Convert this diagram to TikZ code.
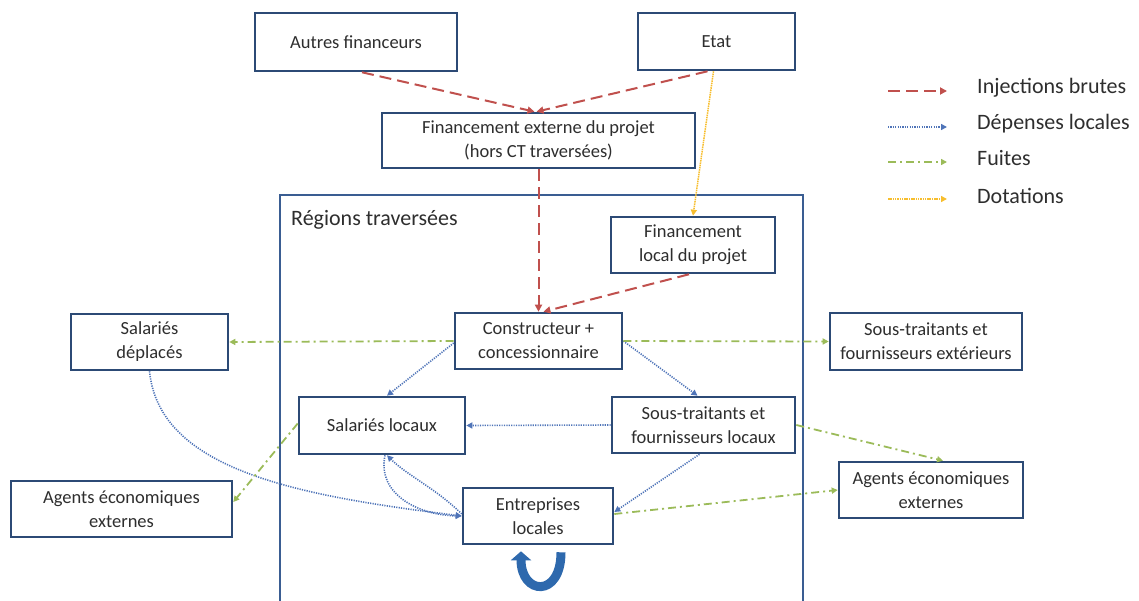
\documentclass[tikz,border=0pt]{standalone}
\usepackage{fontspec}
\setmainfont{Carlito}
\usetikzlibrary{arrows.meta}
\definecolor{boxc}{HTML}{2C4A75}
\definecolor{regc}{HTML}{3A5D92}
\definecolor{txtc}{HTML}{2E2E2E}
\definecolor{injc}{HTML}{C0504D}
\definecolor{depc}{HTML}{4F74B8}
\definecolor{fuic}{HTML}{9BBB59}
\definecolor{dotc}{HTML}{F7BE2E}
\definecolor{uarc}{HTML}{2E69AD}
\begin{document}
\begin{tikzpicture}[x=1pt,y=-1pt,
  box/.style={draw=boxc, line width=2.6pt, fill=white, text=txtc, align=center,
    font=\fontsize{18.5}{24}\selectfont, inner sep=0pt},
  inj/.style={draw=injc, line width=2pt, dash pattern=on 12pt off 6pt,
    -{Triangle[length=7pt,width=7pt]}},
  dep/.style={draw=depc, line width=1.6pt, dash pattern=on 1.2pt off 1.2pt,
    -{Triangle[length=6pt,width=6pt]}},
  fui/.style={draw=fuic, line width=1.8pt, dash pattern=on 8pt off 4pt on 2pt off 4pt,
    -{Triangle[length=6pt,width=6pt]}},
  dota/.style={draw=dotc, line width=1.5pt, dash pattern=on 1.5pt off 0.8pt,
    -{Triangle[length=6pt,width=6pt]}},
  legtext/.style={anchor=west, text=txtc, font=\fontsize{22}{26}\selectfont, inner sep=0pt}
]
\useasboundingbox (0,0) rectangle (1139,601);

% region frame (open at the bottom)
\draw[regc, line width=2.4pt] (280,605) -- (280,195) -- (803,195) -- (803,605);
\node[anchor=west, text=txtc, font=\fontsize{22}{26}\selectfont, inner sep=0pt] (reglab) at (291,220) {Régions traversées};

% boxes
\node[box, minimum width=202pt, minimum height=58pt] (af) at (356,42) {Autres financeurs};
\node[box, minimum width=157pt, minimum height=57pt] (etat) at (716.5,41.5) {Etat};
\node[box, minimum width=313pt, minimum height=55pt] (fe) at (538.5,140.5) {Financement externe du projet\\(hors CT traversées)};
\node[box, minimum width=164pt, minimum height=56pt] (fl) at (693,245) {Financement\\local du projet};
\node[box, minimum width=167pt, minimum height=56pt] (cc) at (538.5,341) {Constructeur +\\concessionnaire};
\node[box, minimum width=157pt, minimum height=56pt] (sd) at (149.5,342) {Salariés\\déplacés};
\node[box, minimum width=192pt, minimum height=57pt] (se) at (926,341.5) {Sous-traitants et\\fournisseurs extérieurs};
\node[box, minimum width=166pt, minimum height=57pt] (sl) at (382,425.5) {Salariés locaux};
\node[box, minimum width=183pt, minimum height=56pt] (stl) at (703.5,425) {Sous-traitants et\\fournisseurs locaux};
\node[box, minimum width=221pt, minimum height=56pt] (ael) at (121.5,509) {Agents économiques\\externes};
\node[box, minimum width=150pt, minimum height=56pt] (el) at (538,516) {Entreprises\\locales};
\node[box, minimum width=184pt, minimum height=56pt] (aer) at (931,490) {Agents économiques\\externes};

% injections brutes
\draw[inj] ([xshift=6pt]af.south) -- ([xshift=-4pt]fe.north);
\draw[inj] ([xshift=-9pt]etat.south) -- ([xshift=-2pt]fe.north);
\draw[inj] (fe.south) -- (cc.north);
\draw[inj] ([xshift=-4pt]fl.south) -- ([xshift=5pt]cc.north);

% dotations
\draw[dota] ([xshift=-3pt]etat.south) -- (fl.north);

% depenses locales
\draw[dep] ([yshift=-2pt]cc.west) -- ([xshift=5pt]sl.north);
\draw[dep] (cc.east) -- ([xshift=-6pt]stl.north);
\draw[dep] (stl.west) -- (sl.east);
\draw[dep] ([xshift=-4pt]stl.south) -- ([yshift=4pt]el.east);
\draw[dep] (sd.south) .. controls +(10,100) and +(-160,-20) .. (el.west);
\draw[dep] ([yshift=2pt]el.west) .. controls +(-25,-25) and +(20,20) .. ([xshift=5pt]sl.south);
\draw[dep] ([xshift=3pt]sl.south) .. controls +(-8,38) and +(-45,-1) .. (el.west);

% fuites
\draw[fui] (cc.west) -- (sd.east);
\draw[fui] (cc.east) -- (se.west);
\draw[fui] (stl.east) -- ([xshift=12pt]aer.north);
\draw[fui] ([yshift=2pt]el.east) -- (aer.west);
\draw[fui] ([yshift=2pt]sl.west) -- ([yshift=7pt]ael.east);

% self loop of Entreprises locales
\draw[uarc, line width=9pt, -{Triangle[length=9pt,width=20pt]}]
  ([xshift=23pt,yshift=-7pt]el.south) .. controls +(0,46) and +(0,44) .. ([xshift=-17pt,yshift=-6pt]el.south);

% legend
\coordinate (l1a) at (888,91);  \coordinate (l1b) at (947,91);
\coordinate (l2a) at (888,127); \coordinate (l2b) at (947,127);
\coordinate (l3a) at (888,162); \coordinate (l3b) at (947,162);
\coordinate (l4a) at (888,199); \coordinate (l4b) at (947,199);
\draw[inj] (l1a) -- (l1b);
\draw[dep] (l2a) -- (l2b);
\draw[fui] (l3a) -- (l3b);
\draw[dota] (l4a) -- (l4b);
\node[legtext] (t1) at (977,88) {Injections brutes};
\node[legtext] (t2) at (977,124) {Dépenses locales};
\node[legtext] (t3) at (977,158) {Fuites};
\node[legtext] (t4) at (977,196) {Dotations};
\end{tikzpicture}
\end{document}
